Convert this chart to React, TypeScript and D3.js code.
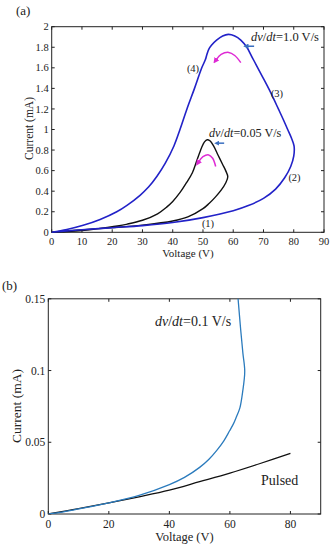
import React from "react";
import * as d3 from "d3";

// Panel (a) data: Voltage (V), Current (mA)
const blueA_V = [0, 5, 10, 20, 30, 40, 50, 60, 65, 70, 74, 77, 79, 80, 80.1, 79.2, 78, 76.5, 75, 73.5, 71.9, 70, 68.1, 66.3, 64.5, 62.5, 60.5, 58.4, 56.5, 54.5, 52.8, 51.9, 51.2, 50.8, 49.6, 47.2, 44.7, 42.4, 40.4, 37.5, 34.8, 32, 29.2, 25, 21.5, 16, 10.4, 5, 0];
const blueA_I = [0, 0.012, 0.025, 0.045, 0.065, 0.095, 0.143, 0.21, 0.26, 0.33, 0.42, 0.53, 0.64, 0.74, 0.84, 0.92, 1.0, 1.1, 1.195, 1.29, 1.388, 1.495, 1.6, 1.7, 1.8, 1.87, 1.91, 1.925, 1.91, 1.87, 1.82, 1.78, 1.72, 1.68, 1.6, 1.4, 1.2, 1.0, 0.84, 0.67, 0.545, 0.44, 0.36, 0.265, 0.2, 0.125, 0.068, 0.027, 0];

const blackA_V = [0, 10, 20, 30, 40, 45, 50, 52, 54, 56, 57.5, 58.2, 57.5, 56.5, 55, 53.5, 52.3, 51.4, 50.5, 49.5, 48, 46.5, 44.5, 42.5, 40, 38, 35, 30, 25, 20, 15, 10, 5, 0];
const blackA_I = [0, 0.024, 0.045, 0.07, 0.11, 0.15, 0.23, 0.28, 0.34, 0.41, 0.48, 0.54, 0.6, 0.66, 0.75, 0.84, 0.89, 0.9, 0.88, 0.82, 0.7, 0.58, 0.48, 0.39, 0.3, 0.245, 0.18, 0.117, 0.08, 0.055, 0.033, 0.017, 0.007, 0];

const magentaA1_V = [54.4, 56, 58.5, 60.5, 62.5];
const magentaA1_I = [1.68, 1.73, 1.75, 1.72, 1.65];
const magentaA2_V = [48.6, 50, 51.9, 53.2, 54.2];
const magentaA2_I = [0.687, 0.735, 0.753, 0.72, 0.64];

const arrowsA_V = [[66.9, 64.7], [57.0, 55.1]];
const arrowsA_I = [1.81, 0.867];

const xTicksA = [0, 10, 20, 30, 40, 50, 60, 70, 80, 90];
const yTicksA = [0, 0.2, 0.4, 0.6, 0.8, 1, 1.2, 1.4, 1.6, 1.8, 2];

// Panel (b) data
const blueB_V = [0, 5, 10, 20, 30, 40, 45, 50, 53, 55.6, 58, 59.9, 61.2, 62.2, 63.3, 64.2, 64.9, 64.3, 63.5, 62.7, 62.6];
const blueB_I = [0, 0.0015, 0.0035, 0.0078, 0.013, 0.0205, 0.0255, 0.0325, 0.038, 0.0442, 0.051, 0.058, 0.063, 0.068, 0.074, 0.085, 0.0995, 0.112, 0.13, 0.15, 0.152];
const pulsedB_V = [0, 10, 20, 30, 40, 50, 60, 70, 80];
const pulsedB_I = [0, 0.0038, 0.0078, 0.012, 0.0166, 0.0225, 0.0285, 0.0352, 0.0423];

const xTicksB = [0, 20, 40, 60, 80];
const yTicksB = [0, 0.05, 0.1, 0.15];
const yTickLabelsB = ["0", "0.05", "0.1", "0.15"];

const FONT = "'Liberation Serif', 'Times New Roman', serif";

type Pt = [number, number];
const zip = (a: number[], b: number[]): Pt[] => a.map((v, i) => [v, b[i]]);

function Frame({ x, y, xTicks, yTicks, yLabels, fs, tick = 3 }: any) {
  const [x0, x1] = x.range();
  const [y0, y1] = y.range();
  return (
    <g>
      <rect x={x0} y={y1} width={x1 - x0} height={y0 - y1} fill="none" stroke="#222" strokeWidth={1} />
      {xTicks.map((t: number) => (
        <g key={"xt" + t}>
          <line x1={x(t)} x2={x(t)} y1={y0} y2={y0 - tick} stroke="#222" />
          <line x1={x(t)} x2={x(t)} y1={y1} y2={y1 + tick} stroke="#222" />
          <text x={x(t)} y={y0 + fs + 2} textAnchor="middle" fontSize={fs} fontFamily={FONT} fill="#222">{t}</text>
        </g>
      ))}
      {yTicks.map((t: number, i: number) => (
        <g key={"yt" + t}>
          <line x1={x0} x2={x0 + tick} y1={y(t)} y2={y(t)} stroke="#222" />
          <line x1={x1} x2={x1 - tick} y1={y(t)} y2={y(t)} stroke="#222" />
          <text x={x0 - 3} y={y(t) + fs * 0.35} textAnchor="end" fontSize={fs} fontFamily={FONT} fill="#222">{yLabels[i]}</text>
        </g>
      ))}
    </g>
  );
}

export default function App() {
  // Panel (a)
  const xA = d3.scaleLinear().domain([0, 90]).range([51.7, 324]);
  const yA = d3.scaleLinear().domain([0, 2]).range([232.3, 26.7]);
  const lineA = d3.line<Pt>().x(d => xA(d[0])).y(d => yA(d[1])).curve(d3.curveCatmullRom.alpha(0.5));

  // Panel (b)
  const xB = d3.scaleLinear().domain([0, 90]).range([48.3, 320.7]);
  const yB = d3.scaleLinear().domain([0, 0.15]).range([514, 298.8]);
  const lineB = d3.line<Pt>().x(d => xB(d[0])).y(d => yB(d[1])).curve(d3.curveCatmullRom.alpha(0.5));

  const blueA = "#2222c8";
  const magenta = "#de2ad4";
  const arrowBlue = "#3a6fc0";

  return (
    <svg width={332} height={550} style={{ position: "absolute", left: 0, top: 0, background: "#fff" }}>
      <defs>
        <marker id="mag" viewBox="0 0 10 10" refX="2" refY="5" markerWidth="4" markerHeight="4" orient="auto-start-reverse">
          <path d="M0,0 L10,5 L0,10 z" fill={magenta} />
        </marker>
        <marker id="arr" viewBox="0 0 10 10" refX="2" refY="5" markerWidth="3.5" markerHeight="3.5" orient="auto">
          <path d="M0,0 L10,5 L0,10 z" fill={arrowBlue} />
        </marker>
        <clipPath id="clipB">
          <rect x={48.3} y={298.8} width={272.4} height={215.2} />
        </clipPath>
      </defs>

      {/* Panel (a) */}
      <text x={16} y={15} fontSize={13} fontFamily={FONT} fill="#222">(a)</text>
      <Frame x={xA} y={yA} xTicks={xTicksA} yTicks={yTicksA} yLabels={yTicksA.map(String)} fs={10.5} />
      <path d={lineA(zip(blackA_V, blackA_I)) || ""} fill="none" stroke="#111" strokeWidth={1.4} />
      <path d={lineA(zip(blueA_V, blueA_I)) || ""} fill="none" stroke={blueA} strokeWidth={1.6} />
      <path d={lineA(zip(magentaA1_V, magentaA1_I)) || ""} fill="none" stroke={magenta} strokeWidth={1.5} markerStart="url(#mag)" />
      <path d={lineA(zip(magentaA2_V, magentaA2_I)) || ""} fill="none" stroke={magenta} strokeWidth={1.5} markerStart="url(#mag)" />
      {arrowsA_V.map((a, i) => (
        <line key={"ar" + i} x1={xA(a[0])} x2={xA(a[1])} y1={yA(arrowsA_I[i])} y2={yA(arrowsA_I[i])} stroke={arrowBlue} strokeWidth={1.5} markerEnd="url(#arr)" />
      ))}
      <text x={251} y={40.5} fontSize={12.5} fontFamily={FONT} fill="#222"><tspan fontStyle="italic">dv</tspan>/<tspan fontStyle="italic">dt</tspan>=1.0 V/s</text>
      <text x={209} y={137} fontSize={12.2} fontFamily={FONT} fill="#222"><tspan fontStyle="italic">dv</tspan>/<tspan fontStyle="italic">dt</tspan>=0.05 V/s</text>
      <text x={193} y={71.5} fontSize={10.5} fontFamily={FONT} textAnchor="middle" fill="#222">(4)</text>
      <text x={277} y={97} fontSize={10.5} fontFamily={FONT} textAnchor="middle" fill="#222">(3)</text>
      <text x={294.5} y={180.5} fontSize={10.5} fontFamily={FONT} textAnchor="middle" fill="#222">(2)</text>
      <text x={208} y={227} fontSize={10.5} fontFamily={FONT} textAnchor="middle" fill="#222">(1)</text>
      <text x={188} y={257} fontSize={11} fontFamily={FONT} textAnchor="middle" fill="#222">Voltage (V)</text>
      <text transform="translate(33,128.5) rotate(-90)" fontSize={11.5} fontFamily={FONT} textAnchor="middle" fill="#222">Current (mA)</text>

      {/* Panel (b) */}
      <text x={2} y={290} fontSize={13} fontFamily={FONT} fill="#222">(b)</text>
      <Frame x={xB} y={yB} xTicks={xTicksB} yTicks={yTicksB} yLabels={yTickLabelsB} fs={11.5} />
      <g clipPath="url(#clipB)">
        <path d={lineB(zip(pulsedB_V, pulsedB_I)) || ""} fill="none" stroke="#111" strokeWidth={1.3} />
        <path d={lineB(zip(blueB_V, blueB_I)) || ""} fill="none" stroke="#2b7bbd" strokeWidth={1.3} />
      </g>
      <text x={155} y={326} fontSize={14} fontFamily={FONT} fill="#222"><tspan fontStyle="italic">dv</tspan>/<tspan fontStyle="italic">dt</tspan>=0.1 V/s</text>
      <text x={261} y={484.5} fontSize={14} fontFamily={FONT} fill="#222">Pulsed</text>
      <text x={184.5} y={541} fontSize={12.5} fontFamily={FONT} textAnchor="middle" fill="#222">Voltage (V)</text>
      <text transform="translate(21,406) rotate(-90)" fontSize={13.5} fontFamily={FONT} textAnchor="middle" fill="#222">Current (mA)</text>
    </svg>
  );
}
